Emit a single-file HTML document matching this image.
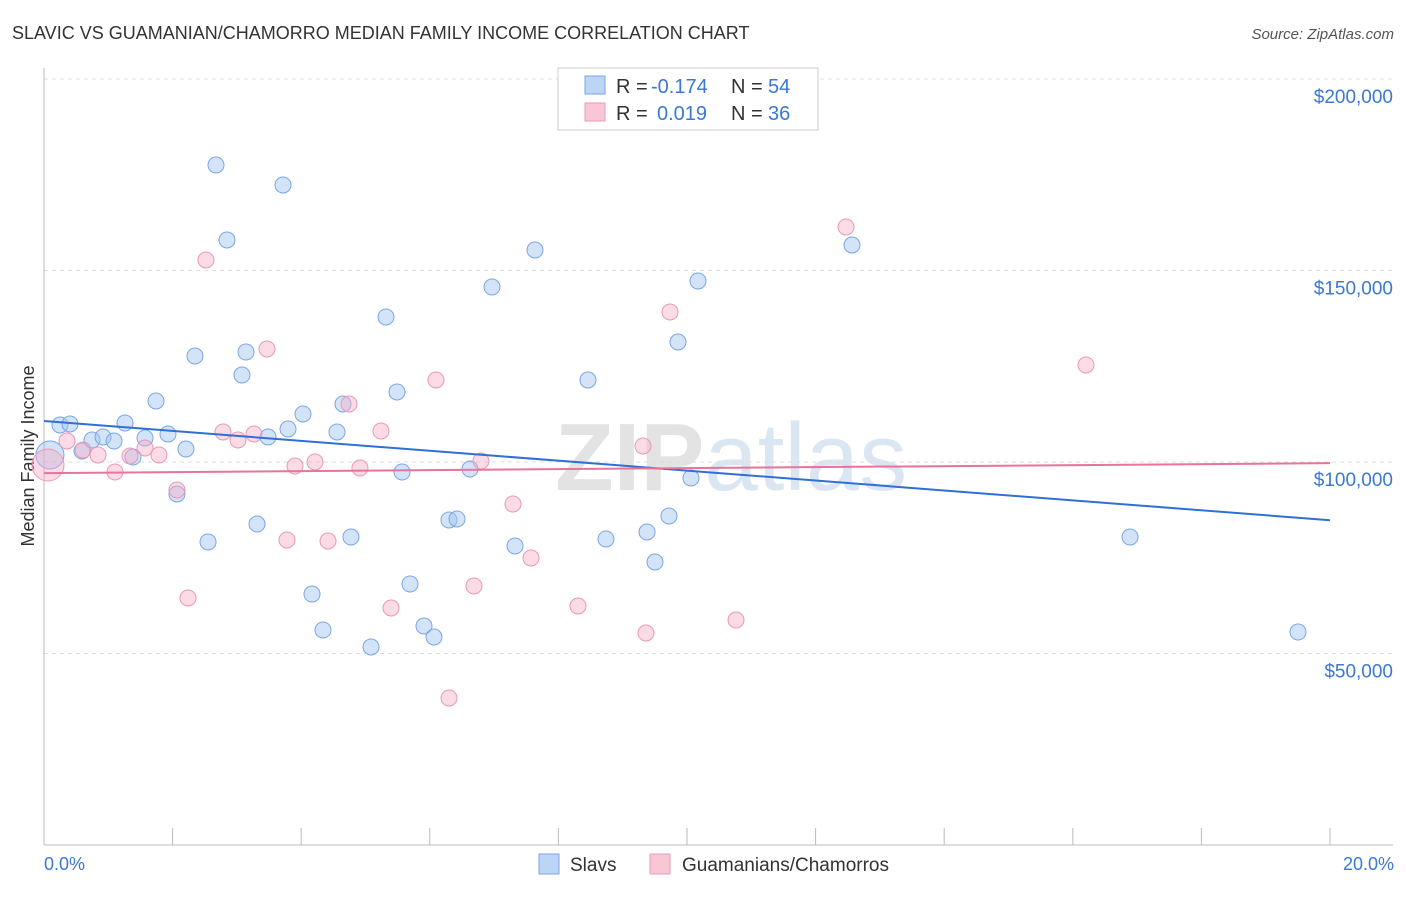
<!DOCTYPE html>
<html><head><meta charset="utf-8"><style>
body{margin:0;background:#fff;font-family:"Liberation Sans",sans-serif;}
svg text{font-family:"Liberation Sans",sans-serif;}
</style></head><body>
<svg id="chart" width="1406" height="892" xmlns="http://www.w3.org/2000/svg">
<text x="12" y="39" font-size="18" fill="#333">SLAVIC VS GUAMANIAN/CHAMORRO MEDIAN FAMILY INCOME CORRELATION CHART</text>
<text x="1394" y="39" font-size="15" fill="#555" font-style="italic" text-anchor="end">Source: ZipAtlas.com</text>
<text x="555" y="490" font-size="96" fill="#e3e3e3" font-family="Liberation Serif" font-weight="bold">ZIP<tspan fill="#dbe6f3" font-family="Liberation Sans" font-weight="normal">atlas</tspan></text>
<g id="grid"></g>
<line x1="44" y1="845" x2="1393" y2="845" stroke="#bbb"/>
<line x1="44" y1="68" x2="44" y2="845" stroke="#bbb"/>
<text transform="translate(34,456) rotate(-90)" font-size="18" fill="#333" text-anchor="middle">Median Family Income</text>
<text x="44" y="870" font-size="18" fill="#3a78d4">0.0%</text>
<text x="1394" y="870" font-size="18" fill="#3a78d4" text-anchor="end">20.0%</text>
<g id="points"></g>
<g id="lines"></g>
<g>
<rect x="558" y="68" width="260" height="62" fill="#fff" stroke="#ccc"/>
<rect x="585" y="76" width="20" height="18" fill="#bcd4f5" stroke="#7aa6e6"/>
<rect x="585" y="103" width="20" height="18" fill="#f9c6d6" stroke="#ee9ab5"/>
<text x="616" y="93" font-size="20" fill="#333">R =</text>
<text x="651" y="93" font-size="20" fill="#3a78d4">-0.174</text>
<text x="731" y="93" font-size="20" fill="#333">N =</text>
<text x="768" y="93" font-size="20" fill="#3a78d4">54</text>
<text x="616" y="120" font-size="20" fill="#333">R =</text>
<text x="657" y="120" font-size="20" fill="#3a78d4">0.019</text>
<text x="731" y="120" font-size="20" fill="#333">N =</text>
<text x="768" y="120" font-size="20" fill="#3a78d4">36</text>
</g>
<g>
<rect x="539" y="854" width="20" height="20" fill="#bcd4f5" stroke="#7aa6e6"/>
<text x="570" y="871" font-size="19" fill="#333">Slavs</text>
<rect x="650" y="854" width="20" height="20" fill="#f9c6d6" stroke="#ee9ab5"/>
<text x="682" y="871" font-size="19" fill="#333">Guamanians/Chamorros</text>
</g>
</svg>
<script>
const yTicks=[50000,100000,150000,200000];
const yTickLabels=["$50,000","$100,000","$150,000","$200,000"];
const xTicks=[0,2,4,6,8,10,12,14,16,18,20];
const slavPx=[60,70,82,92,103,114,125,133,145,156,168,177,186,195,208,216,227,242,246,257,268,283,288,303,312,323,337,343,351,371,386,397,402,410,424,434,449,457,470,492,515,535,588,606,647,655,669,678,691,698,852,1130,1298,50];
const slavPy=[425,424,451,440,437,441,423,457,438,401,434,494,449,356,542,165,240,375,352,524,437,185,429,414,594,630,432,404,537,647,317,392,472,584,626,637,520,519,469,287,546,250,380,539,532,562,516,342,478,281,245,537,632,455];
const guamPx=[48,67,83,98,115,130,145,159,177,188,206,223,238,254,267,287,295,315,328,349,360,381,391,436,449,474,481,513,531,578,643,646,670,736,846,1086];
const guamPy=[465,441,450,455,472,456,448,455,490,598,260,432,440,434,349,540,466,462,541,404,468,431,608,380,698,586,461,504,558,606,446,633,312,620,227,365];
const slavX=slavPx.map(p=>+((p-44)/1286*20).toFixed(3));
const slavY=slavPy.map(p=>Math.round(100000+(462-p)*50000/191.5));
const guamX=guamPx.map(p=>+((p-44)/1286*20).toFixed(3));
const guamY=guamPy.map(p=>Math.round(100000+(462-p)*50000/191.5));
const slavTrend=[110700,84800];
const guamTrend=[97100,99700];
const xs=v=>44+v/20*1286;
const ys=v=>462-(v-100000)*191.5/50000;
const NS="http://www.w3.org/2000/svg";
function mk(t,a,p){const e=document.createElementNS(NS,t);for(const k in a)e.setAttribute(k,a[k]);p.appendChild(e);return e;}
const grid=document.getElementById('grid');
yTicks.forEach((v,i)=>{
 const l=mk('line',{x1:44,x2:1393,y1:ys(v),y2:ys(v),stroke:'#ddd','stroke-dasharray':'4,4'},grid);
 
 
 const t=mk('text',{x:1393,y:ys(v)+24,'font-size':19,fill:'#3a78d4','text-anchor':'end'},grid);
 t.textContent=yTickLabels[i];
 
 
});
xTicks.forEach(v=>{
 const l=mk('line',{x1:xs(v),x2:xs(v),y1:828,y2:845,stroke:'#bbb'},grid);
 
 
});
const pts=document.getElementById('points');
slavX.forEach((x,i)=>{
 const c=mk('circle',{cx:xs(x),cy:ys(slavY[i]),r:i==slavX.length-1?14:8,fill:'rgba(160,195,240,0.45)',stroke:'#7aa6e6','stroke-width':1},pts);
 
 
});
guamX.forEach((x,i)=>{
 const c=mk('circle',{cx:xs(x),cy:ys(guamY[i]),r:i==0?16:8,fill:'rgba(245,175,200,0.45)',stroke:'#ec98b4','stroke-width':1},pts);
 
 
});
const ln=document.getElementById('lines');
const l1=mk('line',{x1:xs(0),x2:xs(20),y1:ys(slavTrend[0]),y2:ys(slavTrend[1]),stroke:'#2f6fd6','stroke-width':2},ln);


const l2=mk('line',{x1:xs(0),x2:xs(20),y1:ys(guamTrend[0]),y2:ys(guamTrend[1]),stroke:'#e8739b','stroke-width':2},ln);


</script>
</body></html>
